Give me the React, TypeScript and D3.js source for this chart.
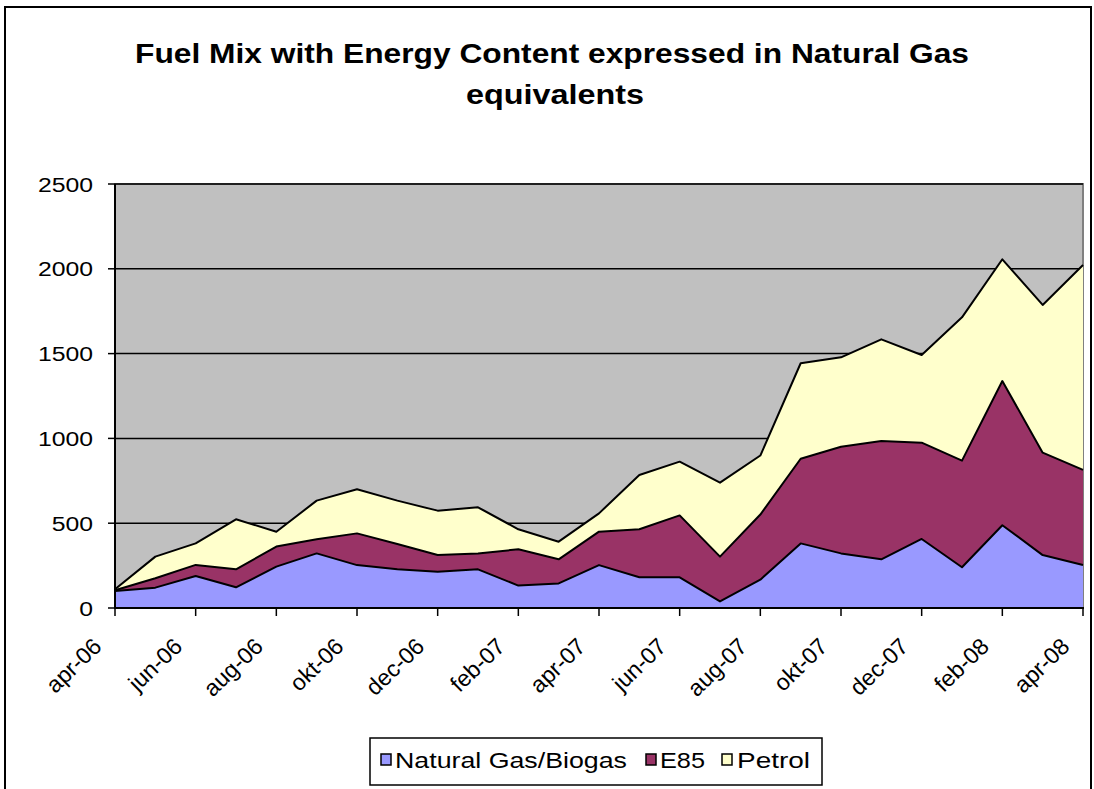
import React from "react";
import * as d3 from "d3";

const months = ["apr-06","mei-06","jun-06","jul-06","aug-06","sep-06","okt-06","nov-06","dec-06","jan-07","feb-07","mrt-07","apr-07","mei-07","jun-07","jul-07","aug-07","sep-07","okt-07","nov-07","dec-07","jan-08","feb-08","mrt-08","apr-08"];
const naturalGas = [100,120,189,122,244,322,253,228,214,228,132,145,253,181,181,39,167,381,322,287,407,240,488,312,253];
const e85 = [5,55,65,106,118,83,187,149,98,94,214,142,197,283,365,264,384,499,629,698,568,629,850,604,561];
const petrol = [5,128,127,295,88,228,260,256,262,272,118,104,108,320,317,436,348,563,527,599,517,845,718,871,1208];
const seriesNames = ["Natural Gas/Biogas", "E85", "Petrol"];
const seriesColors = ["#9999FF", "#993366", "#FFFFCC"];
const yTicks = [0, 500, 1000, 1500, 2000, 2500];

const W = 1094, H = 789;
const left = 115, right = 1083, top = 184, bottom = 608;
const FONT = "'Liberation Sans', Arial, sans-serif";
const SX = 1.18;

export default function App() {
  const x = d3.scalePoint<string>().domain(months).range([left, right]);
  const y = d3.scaleLinear().domain([0, 2500]).range([bottom, top]);
  const rows = months.map((m, i) => ({ m, ng: naturalGas[i], e85: e85[i], petrol: petrol[i] }));
  const stack = d3.stack<any>().keys(["ng", "e85", "petrol"])(rows);
  const area = d3.area<any>()
    .x((d) => x(d.data.m) as number)
    .y0((d) => y(d[0]))
    .y1((d) => y(d[1]));
  const line = d3.line<any>()
    .x((d) => x(d.data.m) as number)
    .y((d) => y(d[1]));
  const labelMonths = months.filter((_, i) => i % 2 === 0);

  const legendItems = [
    { x: 381, tx: 395, len: 232 },
    { x: 646, tx: 660, len: 45 },
    { x: 722, tx: 737, len: 73 },
  ];

  return (
    <svg width={W} height={H} style={{ position: "absolute", left: 0, top: 0, background: "#fff" }} fontFamily={FONT}>
      <rect x={5} y={7} width={W - 8} height={H} fill="#fff" stroke="#000" strokeWidth={2} />
      <text x={135} y={63} fontSize={28} fontWeight="bold" textLength={834} lengthAdjust="spacingAndGlyphs">Fuel Mix with Energy Content expressed in Natural Gas</text>
      <text x={466} y={104} fontSize={28} fontWeight="bold" textLength={178} lengthAdjust="spacingAndGlyphs">equivalents</text>
      <rect x={left} y={top} width={right - left} height={bottom - top} fill="#C0C0C0" stroke="#808080" strokeWidth={2} />
      {yTicks.filter((t) => t > 0).map((t) => (
        <line key={t} x1={left} x2={right} y1={y(t)} y2={y(t)} stroke="#000" strokeWidth={1.5} />
      ))}
      {stack.map((s, i) => (
        <path key={"a" + i} d={area(s) as string} fill={seriesColors[i]} stroke="none" />
      ))}
      {stack.map((s, i) => (
        <path key={"l" + i} d={line(s) as string} fill="none" stroke="#000" strokeWidth={2} strokeLinejoin="round" />
      ))}
      <line x1={left} x2={left} y1={top} y2={bottom + 1} stroke="#000" strokeWidth={2} />
      <line x1={left - 1} x2={right + 1} y1={bottom} y2={bottom} stroke="#000" strokeWidth={2} />
      {yTicks.map((t) => (
        <g key={"yt" + t}>
          <line x1={left - 7} x2={left} y1={y(t)} y2={y(t)} stroke="#000" strokeWidth={1.5} />
          <text transform={`translate(93,${y(t) + 7.5}) scale(${SX},1)`} textAnchor="end" fontSize={21}>{t}</text>
        </g>
      ))}
      {labelMonths.map((m) => {
        const px = x(m) as number;
        return (
          <g key={"xt" + m}>
            <line x1={px} x2={px} y1={bottom} y2={bottom + 8} stroke="#000" strokeWidth={1.5} />
            <text transform={`translate(${px - 12},${bottom + 40}) rotate(-44)`} textAnchor="end" fontSize={23}>{m}</text>
          </g>
        );
      })}
      <rect x={370} y={738} width={452} height={47} fill="#fff" stroke="#000" strokeWidth={1.5} />
      {seriesNames.map((n, i) => (
        <g key={"lg" + i}>
          <rect x={legendItems[i].x} y={754} width={10} height={11} fill={seriesColors[i]} stroke="#000" strokeWidth={1.5} />
          <text x={legendItems[i].tx} y={768} fontSize={22} textLength={legendItems[i].len} lengthAdjust="spacingAndGlyphs">{n}</text>
        </g>
      ))}
    </svg>
  );
}
